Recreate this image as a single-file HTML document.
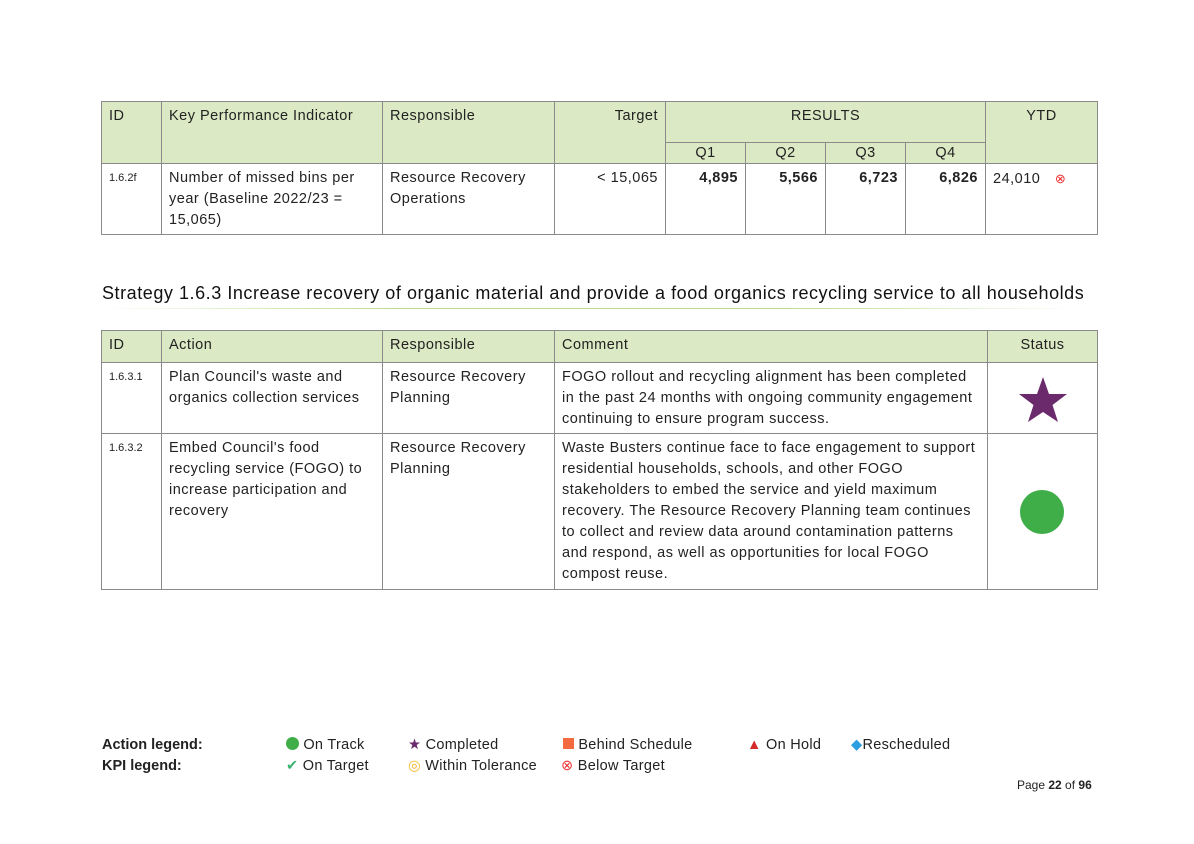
<!DOCTYPE html>
<html><head><meta charset="utf-8"><style>
body{margin:0;width:1194px;height:844px;background:#fff;position:relative;font-family:"Liberation Sans",sans-serif;color:#222;overflow:hidden}
.c{position:absolute;box-sizing:border-box;border:1px solid #8a8a8a;font-size:14.5px;line-height:21px;padding:4px 7px;margin:-1px 0 0 -1px;letter-spacing:0.5px}
.h{background:#dbe9c4}
.r{text-align:right}
.ctr{text-align:center}
.b{font-weight:bold}
.id{font-size:11px;letter-spacing:0}
.t{position:absolute;font-size:14.5px;white-space:nowrap;letter-spacing:0.3px}
</style></head><body>
<!-- Table 1 -->
<div class="c h" style="left:102px;top:102px;width:61px;height:63px">ID</div>
<div class="c h" style="left:162px;top:102px;width:222px;height:63px">Key Performance Indicator</div>
<div class="c h" style="left:383px;top:102px;width:173px;height:63px">Responsible</div>
<div class="c h r" style="left:555px;top:102px;width:112px;height:63px">Target</div>
<div class="c h ctr" style="left:666px;top:102px;width:321px;height:42px">RESULTS</div>
<div class="c h ctr" style="left:666px;top:143px;width:81px;height:22px;padding-top:0">Q1</div>
<div class="c h ctr" style="left:746px;top:143px;width:81px;height:22px;padding-top:0">Q2</div>
<div class="c h ctr" style="left:826px;top:143px;width:81px;height:22px;padding-top:0">Q3</div>
<div class="c h ctr" style="left:906px;top:143px;width:81px;height:22px;padding-top:0">Q4</div>
<div class="c h ctr" style="left:986px;top:102px;width:113px;height:63px">YTD</div>
<div class="c id" style="left:102px;top:164px;width:61px;height:72px">1.6.2f</div>
<div class="c" style="left:162px;top:164px;width:222px;height:72px">Number of missed bins per year (Baseline 2022/23 = 15,065)</div>
<div class="c" style="left:383px;top:164px;width:173px;height:72px">Resource Recovery Operations</div>
<div class="c r" style="left:555px;top:164px;width:112px;height:72px">&lt; 15,065</div>
<div class="c r b" style="left:666px;top:164px;width:81px;height:72px">4,895</div>
<div class="c r b" style="left:746px;top:164px;width:81px;height:72px">5,566</div>
<div class="c r b" style="left:826px;top:164px;width:81px;height:72px">6,723</div>
<div class="c r b" style="left:906px;top:164px;width:81px;height:72px">6,826</div>
<div class="c" style="left:986px;top:164px;width:113px;height:72px">24,010 <span style="color:#e33;margin-left:10px;font-size:13px">&#8855;</span></div>

<div class="t" style="left:102px;top:283px;font-size:18px;color:#111;letter-spacing:0.55px">Strategy 1.6.3 Increase recovery of organic material and provide a food organics recycling service to all households</div>
<div style="position:absolute;left:102px;top:308px;width:976px;height:1px;background:linear-gradient(90deg,#fff,#b9dc8a 30%,#b9dc8a 70%,#fff)"></div>

<!-- Table 2 -->
<div class="c h" style="left:102px;top:331px;width:61px;height:33px">ID</div>
<div class="c h" style="left:162px;top:331px;width:222px;height:33px">Action</div>
<div class="c h" style="left:383px;top:331px;width:173px;height:33px">Responsible</div>
<div class="c h" style="left:555px;top:331px;width:434px;height:33px">Comment</div>
<div class="c h ctr" style="left:988px;top:331px;width:111px;height:33px">Status</div>

<div class="c id" style="left:102px;top:363px;width:61px;height:72px">1.6.3.1</div>
<div class="c" style="left:162px;top:363px;width:222px;height:72px">Plan Council's waste and organics collection services</div>
<div class="c" style="left:383px;top:363px;width:173px;height:72px">Resource Recovery Planning</div>
<div class="c" style="left:555px;top:363px;width:434px;height:72px">FOGO rollout and recycling alignment has been completed in the past 24 months with ongoing community engagement continuing to ensure program success.</div>
<div class="c ctr" style="left:988px;top:363px;width:111px;height:72px;padding:0"><svg width="50" height="50" style="margin-top:12px" viewBox="0 0 50 50"><polygon points="25,2 31,19 49,19 34.5,30 40,47 25,37 10,47 15.5,30 1,19 19,19" fill="#6a2a6b"/></svg></div>

<div class="c id" style="left:102px;top:434px;width:61px;height:157px">1.6.3.2</div>
<div class="c" style="left:162px;top:434px;width:222px;height:157px">Embed Council's food recycling service (FOGO) to increase participation and recovery</div>
<div class="c" style="left:383px;top:434px;width:173px;height:157px">Resource Recovery Planning</div>
<div class="c" style="left:555px;top:434px;width:434px;height:157px">Waste Busters continue face to face engagement to support residential households, schools, and other FOGO stakeholders to embed the service and yield maximum recovery. The Resource Recovery Planning team continues to collect and review data around contamination patterns and respond, as well as opportunities for local FOGO compost reuse.</div>
<div class="c" style="left:988px;top:434px;width:111px;height:157px;padding:0"><div style="position:absolute;left:32px;top:56px;width:44px;height:44px;border-radius:50%;background:#3fae49"></div></div>

<!-- legend -->
<div class="t b" style="left:102px;top:737px;letter-spacing:0">Action legend:</div>
<div class="t b" style="left:102px;top:758px;letter-spacing:0">KPI legend:</div>
<div class="t" style="left:286px;top:737px"><span style="display:inline-block;width:13px;height:13px;border-radius:50%;background:#3fae49;vertical-align:-1px"></span> On Track</div>
<div class="t" style="left:408px;top:737px"><span style="color:#6a2a6b">&#9733;</span> Completed</div>
<div class="t" style="left:563px;top:737px"><span style="display:inline-block;width:11px;height:11px;background:#f26a3d;vertical-align:0"></span> Behind Schedule</div>
<div class="t" style="left:747px;top:737px"><span style="color:#d42a2a">&#9650;</span> On Hold</div>
<div class="t" style="left:851px;top:737px"><span style="color:#2b9fe0">&#9670;</span>Rescheduled</div>
<div class="t" style="left:286px;top:758px"><span style="color:#3cb371">&#10004;&#xFE0E;</span> On Target</div>
<div class="t" style="left:408px;top:758px"><span style="color:#f5b82e">&#9678;</span> Within Tolerance</div>
<div class="t" style="left:561px;top:758px"><span style="color:#e33">&#8855;</span> Below Target</div>
<div class="t" style="left:1017px;top:778px;font-size:12px;letter-spacing:0">Page <b>22</b> of <b>96</b></div>
</body></html>
